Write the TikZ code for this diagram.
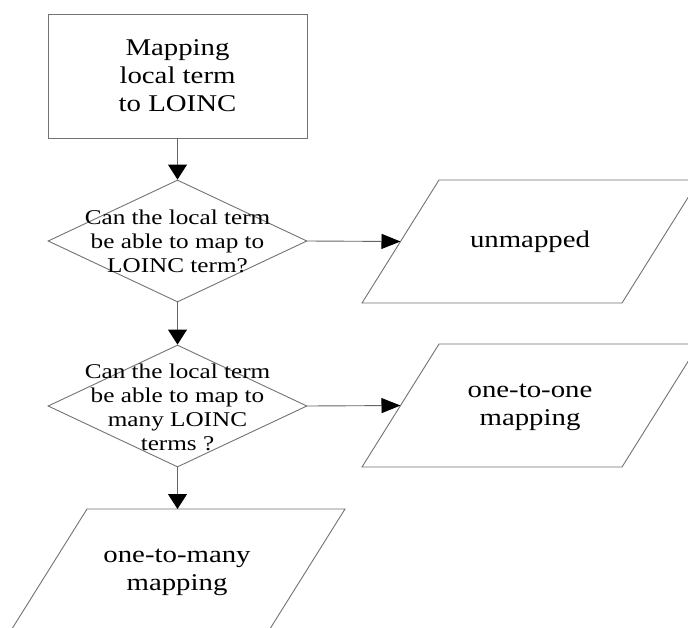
\documentclass[tikz,border=0pt]{standalone}
\usepackage{fontspec}
\setmainfont[FakeStretch=1.2]{Liberation Serif}
\usetikzlibrary{shapes.geometric,arrows.meta}
\begin{document}
\begin{tikzpicture}[x=1pt,y=-1pt,
  shapeline/.style={draw=black!55,line width=0.9pt},
  boxnode/.style={shapeline,rectangle,minimum width=259pt,minimum height=124pt,inner sep=0pt},
  dianode/.style={shapeline,diamond,minimum width=259pt,minimum height=122pt,inner sep=0pt},
  bigtext/.style={align=center,font=\fontsize{24}{28}\selectfont},
  smalltext/.style={align=center,font=\fontsize{21}{24}\selectfont},
  varrow/.style={draw=black!60,line width=0.9pt,-{Triangle[length=15pt,width=19pt,black]}},
  harrow/.style={draw=black!60,line width=0.9pt,-{Triangle[length=19pt,width=15pt,black]}}]
\clip (0,0) rectangle (688,627);
\fill[white] (0,0) rectangle (688,627);
% start box
\node[boxnode] (start) at (177.5,76) {};
\node[bigtext] (starttext) at (start) {Mapping\\local term\\to LOINC};
% decisions
\node[dianode] (d1) at (177.5,241) {};
\node[smalltext] (d1text) at (177.5,241) {Can the local term\\be able to map to\\LOINC term?};
\node[dianode] (d2) at (177.5,406) {};
\node[smalltext] (d2text) at (177.5,407) {Can the local term\\be able to map to\\many LOINC\\terms ?};
% parallelograms
\draw[shapeline] (362,303) -- (439,180) -- (699,180) -- (622,303) -- cycle;
\coordinate (p1in) at (400.5,241.5);
\node[bigtext] (p1) at (530,242) {unmapped};
\draw[shapeline] (362,467) -- (439,344) -- (699,344) -- (622,467) -- cycle;
\coordinate (p2in) at (400.5,405.5);
\node[bigtext] (p2) at (530,407) {one-to-one\\mapping};
\draw[shapeline] (10,632) -- (87,509) -- (345,509) -- (268,632) -- cycle;
\coordinate (p3top) at (177.5,509);
\node[bigtext] (p3) at (177,572) {one-to-many\\mapping};
% connectors
\draw[varrow] (start.south) -- (d1.north);
\draw[varrow] (d1.south) -- (d2.north);
\draw[varrow] (d2.south) -- (p3top);
\draw[harrow] (d1.east) -- (p1in);
\draw[harrow] (d2.east) -- (p2in);
\end{tikzpicture}
\end{document}
